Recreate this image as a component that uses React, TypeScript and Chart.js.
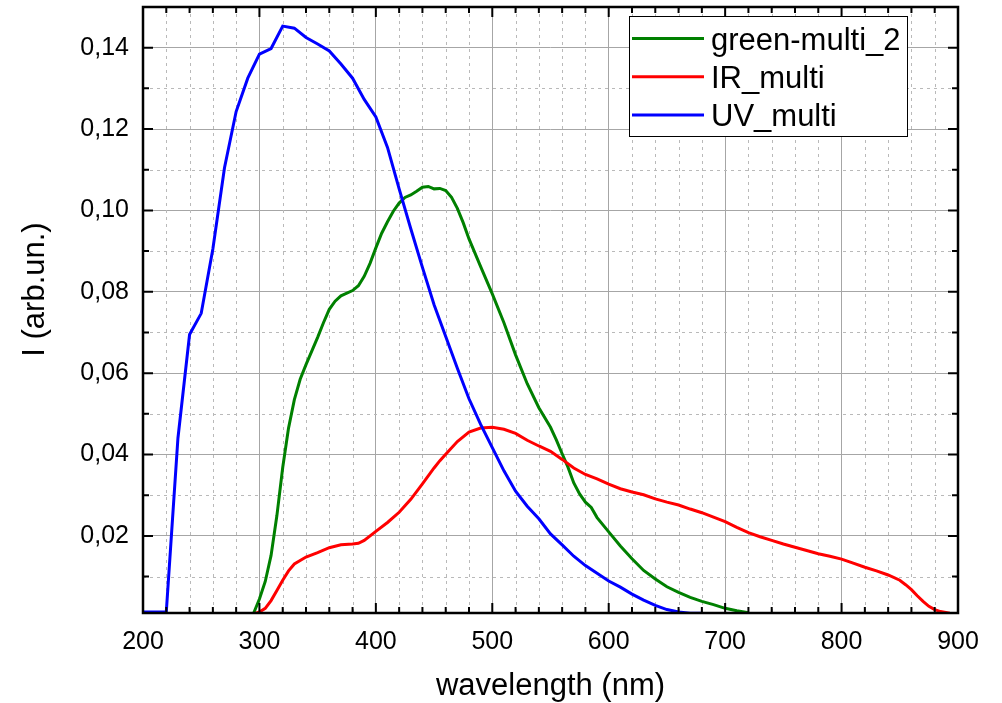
import React, { useEffect, useRef } from 'react';
import { Chart, registerables } from 'chart.js';

Chart.register(...registerables);

const FONT = '"Liberation Sans", Arial, sans-serif';

const seriesLabels = ['green-multi_2', 'IR_multi', 'UV_multi'];
const seriesColors = ['#008000', '#ff0000', '#0000ff'];

const greenWl = [295, 300, 305, 310, 315, 320, 325, 330, 335, 340, 350, 355, 360, 365, 370, 380, 385, 390, 395, 400, 405, 410, 415, 420, 425, 430, 435, 440, 445, 450, 455, 460, 465, 470, 475, 480, 490, 500, 510, 520, 530, 540, 550, 555, 560, 565, 570, 575, 580, 585, 590, 600, 610, 620, 630, 640, 650, 660, 670, 680, 690, 700, 710, 720];
const greenI = [0.001, 0.0045, 0.0088, 0.0152, 0.025, 0.0368, 0.0465, 0.0535, 0.0585, 0.0621, 0.0688, 0.0724, 0.0757, 0.0777, 0.079, 0.0803, 0.0815, 0.0838, 0.087, 0.0908, 0.0944, 0.0972, 0.0998, 0.1018, 0.1032, 0.1038, 0.1047, 0.1057, 0.1059, 0.1053, 0.1054, 0.1049, 0.1032, 0.1005, 0.097, 0.093, 0.0862, 0.0795, 0.0724, 0.0645, 0.0574, 0.0515, 0.0467, 0.0436, 0.0402, 0.0369, 0.033, 0.0303, 0.0283, 0.027, 0.0245, 0.021, 0.0175, 0.0144, 0.0115, 0.0094, 0.0075, 0.0061, 0.0049, 0.0039, 0.0031, 0.0022, 0.0016, 0.0011];

const irWl = [297, 300, 305, 310, 315, 320, 325, 330, 340, 350, 360, 370, 380, 385, 390, 400, 410, 420, 430, 440, 450, 455, 460, 470, 480, 490, 500, 510, 520, 530, 540, 550, 560, 570, 580, 590, 600, 610, 620, 630, 640, 650, 660, 670, 680, 690, 700, 710, 720, 730, 740, 750, 760, 770, 780, 790, 800, 810, 820, 830, 840, 850, 855, 860, 865, 870, 875, 880, 885, 893];
const irI = [0.001, 0.0013, 0.0022, 0.0041, 0.0066, 0.0091, 0.0114, 0.0131, 0.0148, 0.0159, 0.0171, 0.0178, 0.018, 0.0182, 0.0189, 0.0211, 0.0233, 0.0258, 0.029, 0.0328, 0.0367, 0.0385, 0.0401, 0.0432, 0.0455, 0.0465, 0.0467, 0.0462, 0.0452, 0.0435, 0.0421, 0.0408, 0.0388, 0.0367, 0.0351, 0.034, 0.0327, 0.0316, 0.0308, 0.0301, 0.0291, 0.0283, 0.0276, 0.0266, 0.0257, 0.0246, 0.0235, 0.0221, 0.0208, 0.0198, 0.0189, 0.018, 0.0172, 0.0164, 0.0156, 0.015, 0.0143, 0.0133, 0.0123, 0.0114, 0.0104, 0.0091, 0.008, 0.0068, 0.0053, 0.0039, 0.0027, 0.0019, 0.0014, 0.001];

const uvWl = [200, 210, 220, 230, 240, 250, 260, 270, 280, 290, 300, 310, 320, 330, 340, 350, 360, 370, 380, 390, 400, 410, 420, 430, 440, 450, 460, 470, 480, 490, 500, 510, 520, 530, 540, 550, 560, 570, 580, 590, 600, 610, 620, 630, 640, 650, 660, 670, 680];
const uvI = [0.0013, 0.0013, 0.0013, 0.044, 0.0695, 0.0747, 0.0905, 0.1105, 0.1243, 0.1325, 0.1384, 0.1398, 0.1453, 0.1448, 0.1425, 0.1409, 0.1392, 0.136, 0.1325, 0.1273, 0.123, 0.1155, 0.1053, 0.0955, 0.086, 0.0768, 0.069, 0.0612, 0.0537, 0.0474, 0.0417, 0.036, 0.031, 0.0273, 0.0242, 0.0205, 0.0178, 0.015, 0.0127, 0.0108, 0.0089, 0.0074, 0.0057, 0.0042, 0.0029, 0.0019, 0.0013, 0.001, 0.001];

const X_MIN = 200;
const X_MAX = 900;
const X_MAJOR = 100;
const X_MINOR = 20;
const Y_MIN = 0.00105;
const Y_MAX = 0.15;
const Y_MAJOR = 0.02;
const Y_MINOR = 0.01;
const X_TITLE = 'wavelength (nm)';
const Y_TITLE = 'I (arb.un.)';

const toPoints = (xs: number[], ys: number[]) => xs.map((x, i) => ({ x, y: ys[i] }));

const xMinorValues = () => {
  const out: { v: number; major: boolean }[] = [];
  const n = Math.round((X_MAX - X_MIN) / X_MINOR);
  for (let k = 0; k <= n; k++) {
    const v = X_MIN + k * X_MINOR;
    out.push({ v, major: Math.round(v) % X_MAJOR === 0 });
  }
  return out;
};
const yMinorValues = () => {
  const out: { v: number; major: boolean }[] = [];
  const n = Math.floor(Y_MAX / Y_MINOR + 1e-9);
  const ratio = Math.round(Y_MAJOR / Y_MINOR);
  for (let k = 1; k <= n; k++) {
    const v = k * Y_MINOR;
    if (v < Y_MIN || v > Y_MAX) continue;
    out.push({ v, major: k % ratio === 0 });
  }
  return out;
};

const decorPlugin = {
  id: 'decor',
  beforeDatasetsDraw(chart: any) {
    const { ctx, chartArea: a, scales } = chart;
    ctx.save();
    ctx.strokeStyle = '#b9b9b9';
    ctx.lineWidth = 1;
    ctx.setLineDash([3, 4]);
    for (const t of xMinorValues()) {
      if (t.major) continue;
      const px = Math.round(scales.x.getPixelForValue(t.v)) + 0.5;
      ctx.beginPath();
      ctx.moveTo(px, a.top);
      ctx.lineTo(px, a.bottom);
      ctx.stroke();
    }
    for (const t of yMinorValues()) {
      if (t.major) continue;
      const py = Math.round(scales.y.getPixelForValue(t.v)) + 0.5;
      ctx.beginPath();
      ctx.moveTo(a.left, py);
      ctx.lineTo(a.right, py);
      ctx.stroke();
    }
    ctx.restore();
  },
  afterDatasetsDraw(chart: any) {
    const { ctx, chartArea: a, scales } = chart;
    ctx.save();
    ctx.strokeStyle = '#000';
    ctx.lineWidth = 2;
    ctx.setLineDash([]);
    for (const t of xMinorValues()) {
      const px = scales.x.getPixelForValue(t.v);
      const len = t.major ? 10 : 6;
      ctx.beginPath();
      ctx.moveTo(px, a.bottom);
      ctx.lineTo(px, a.bottom - len);
      ctx.moveTo(px, a.top);
      ctx.lineTo(px, a.top + len);
      ctx.stroke();
    }
    for (const t of yMinorValues()) {
      const py = scales.y.getPixelForValue(t.v);
      const len = t.major ? 10 : 6;
      ctx.beginPath();
      ctx.moveTo(a.left, py);
      ctx.lineTo(a.left + len, py);
      ctx.moveTo(a.right, py);
      ctx.lineTo(a.right - len, py);
      ctx.stroke();
    }
    ctx.lineWidth = 2.5;
    ctx.strokeRect(a.left, a.top, a.right - a.left, a.bottom - a.top);

    // axis titles
    ctx.fillStyle = '#000';
    ctx.font = `31px ${FONT}`;
    ctx.textAlign = 'center';
    ctx.textBaseline = 'alphabetic';
    ctx.fillText(X_TITLE, (a.left + a.right) / 2, 695);
    ctx.save();
    ctx.translate(44, 289.5);
    ctx.rotate(-Math.PI / 2);
    ctx.fillText(Y_TITLE, 0, 0);
    ctx.restore();
    ctx.restore();
  },
  afterDraw(chart: any) {
    const { ctx } = chart;
    ctx.save();
    const bx = 629.5, by = 16.5, bw = 278, bh = 120;
    ctx.fillStyle = '#fff';
    ctx.fillRect(bx, by, bw, bh);
    ctx.strokeStyle = '#000';
    ctx.lineWidth = 1;
    ctx.strokeRect(bx, by, bw, bh);
    ctx.font = `31px ${FONT}`;
    ctx.textAlign = 'left';
    ctx.textBaseline = 'alphabetic';
    chart.data.datasets.forEach((ds: any, i: number) => {
      const ry = 38.5 + i * 38.3;
      ctx.strokeStyle = ds.borderColor;
      ctx.lineWidth = 3;
      ctx.beginPath();
      ctx.moveTo(632, ry);
      ctx.lineTo(704, ry);
      ctx.stroke();
      ctx.fillStyle = '#000';
      ctx.fillText(ds.label, 711, ry + 11);
    });
    ctx.restore();
  },
};

export default function App() {
  const ref = useRef<HTMLCanvasElement>(null);
  useEffect(() => {
    const series = [
      toPoints(greenWl, greenI),
      toPoints(irWl, irI),
      toPoints(uvWl, uvI),
    ];
    const chart = new Chart(ref.current!, {
      type: 'line',
      data: {
        datasets: series.map((pts, i) => ({
          label: seriesLabels[i],
          data: pts,
          borderColor: seriesColors[i],
          backgroundColor: seriesColors[i],
          borderWidth: 3,
          pointRadius: 0,
          tension: 0,
          fill: false,
          order: 2 - i,
        })),
      },
      options: {
        responsive: false,
        animation: false,
        devicePixelRatio: 1,
        layout: { padding: { top: 7, right: 44, left: 0, bottom: 0 } },
        plugins: { legend: { display: false }, tooltip: { enabled: false } },
        scales: {
          x: {
            type: 'linear',
            min: X_MIN,
            max: X_MAX,
            afterFit: (s: any) => {
              s.height = 90;
              s.paddingLeft = 0;
              s.paddingRight = 0;
            },
            border: { display: false },
            grid: { color: '#a6a6a6', lineWidth: 1, drawTicks: false },
            ticks: {
              stepSize: X_MAJOR,
              padding: 14,
              color: '#000',
              font: { family: FONT, size: 25 },
              callback: (v: any) => String(v),
            },
          },
          y: {
            type: 'linear',
            min: Y_MIN,
            max: Y_MAX,
            afterFit: (s: any) => {
              s.width = 143;
              s.paddingTop = 0;
              s.paddingBottom = 0;
            },
            border: { display: false },
            grid: { color: '#a6a6a6', lineWidth: 1, drawTicks: false },
            ticks: {
              stepSize: Y_MAJOR,
              includeBounds: false,
              padding: 14,
              color: '#000',
              font: { family: FONT, size: 25 },
              callback: (v: any) => Number(v).toFixed(2).replace('.', ','),
            },
          },
        },
      },
      plugins: [decorPlugin],
    });
    return () => chart.destroy();
  }, []);
  return (
    <canvas
      ref={ref}
      width={1002}
      height={703}
      style={{ position: 'absolute', left: 0, top: 0, width: 1002, height: 703, display: 'block' }}
    />
  );
}
